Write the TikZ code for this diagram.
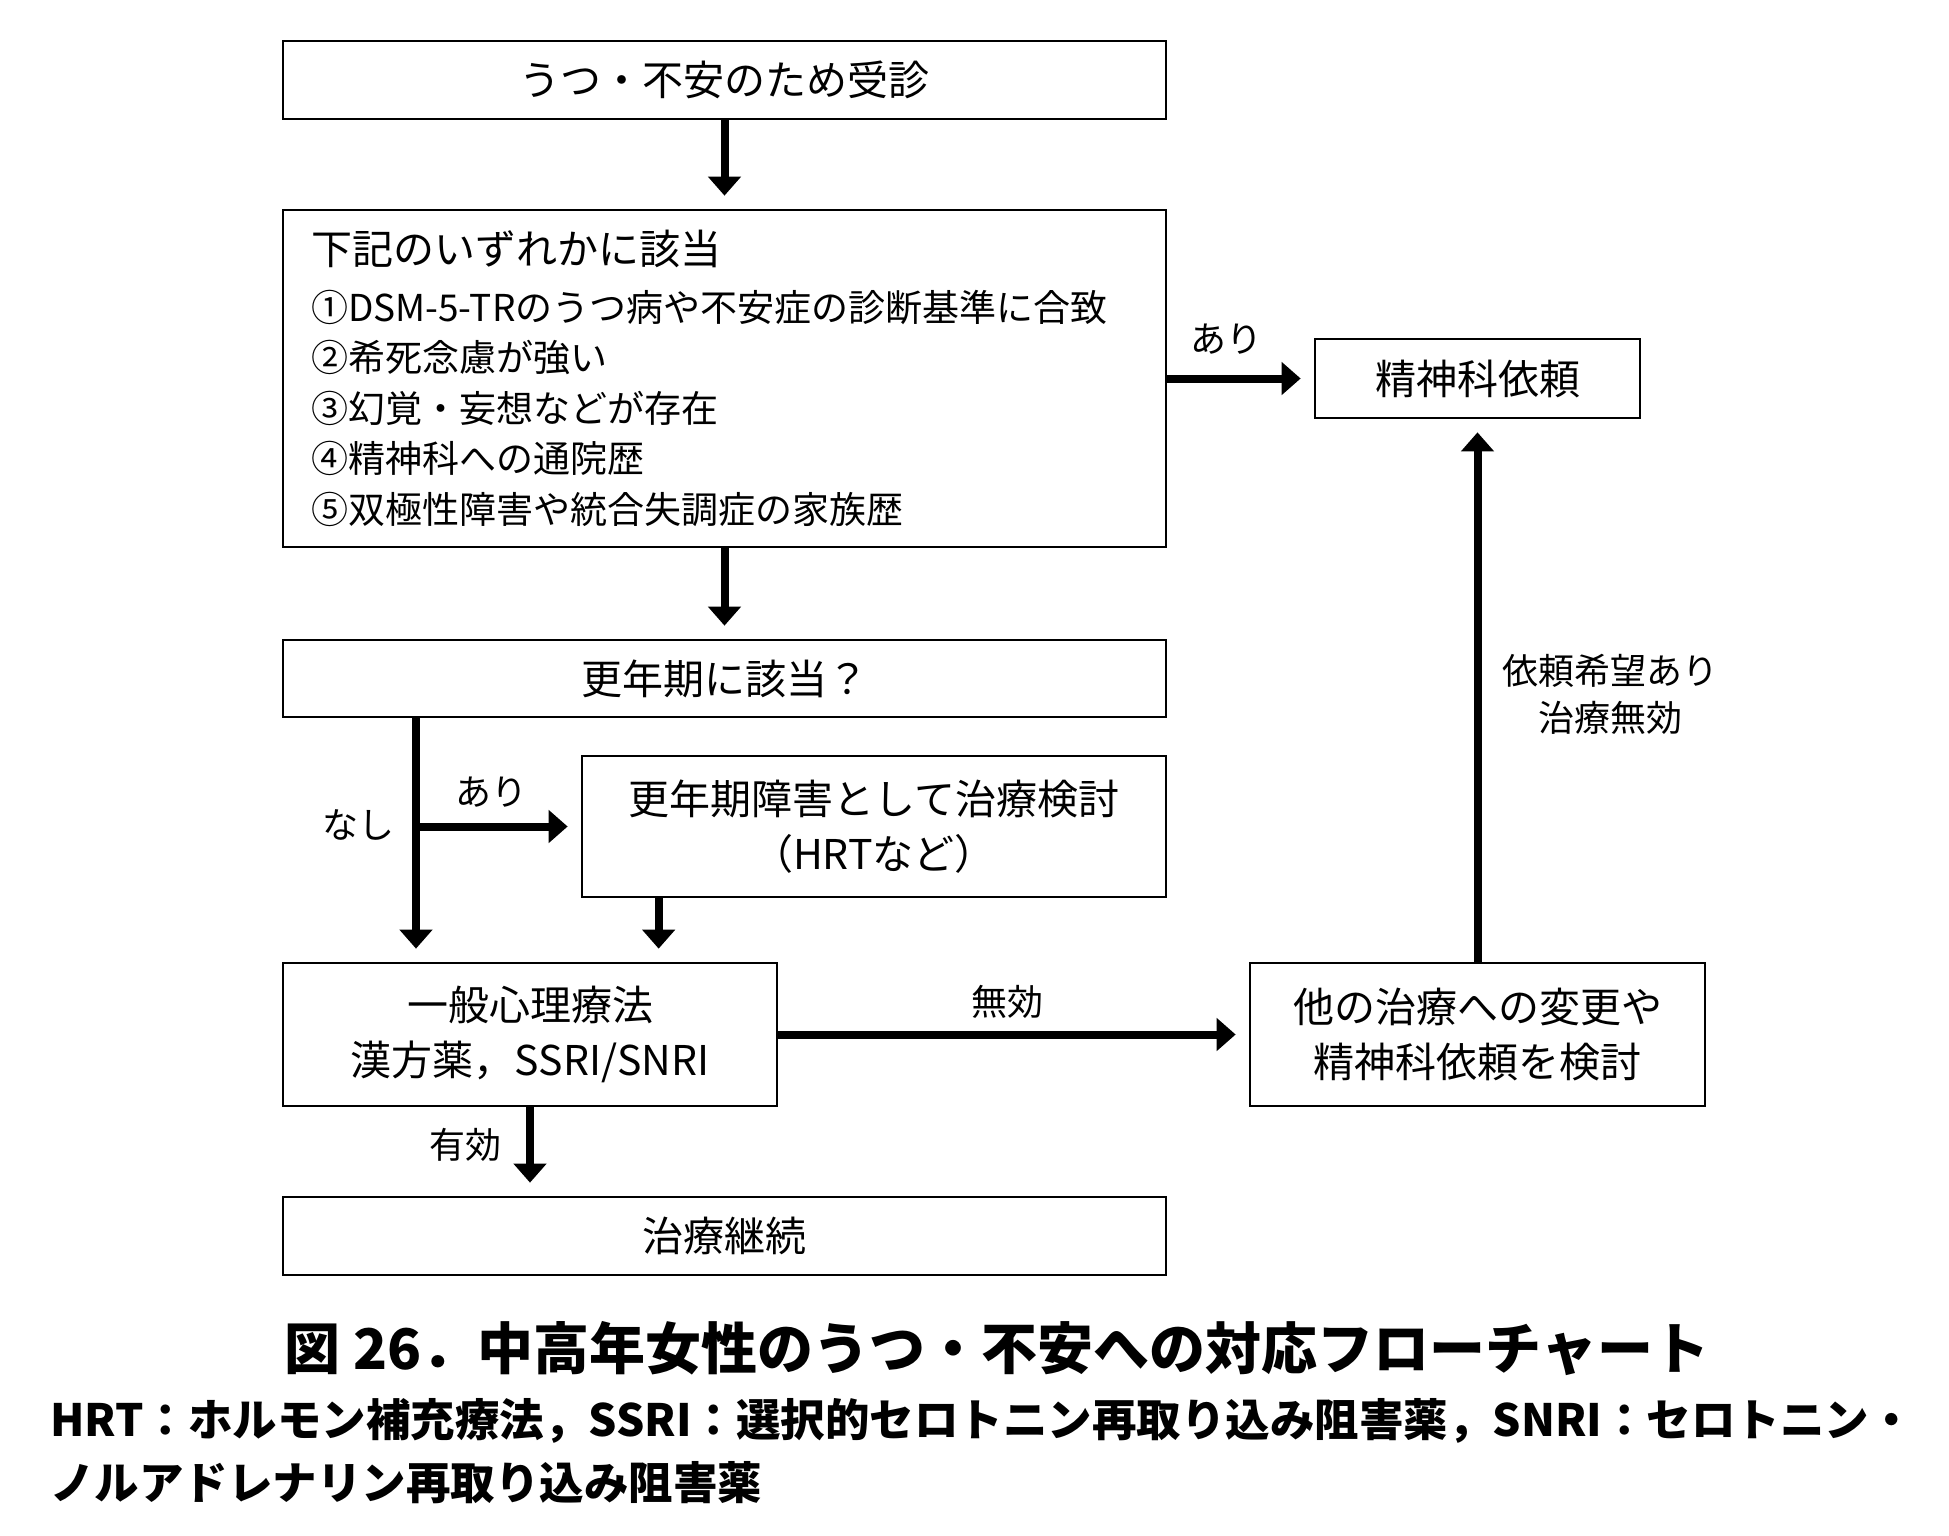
\documentclass[tikz,border=0pt]{standalone}
\usepackage{fontspec}
\setmainfont{Noto Sans CJK JP}
\usetikzlibrary{arrows.meta}

\begin{document}
\begin{tikzpicture}[x=1pt,y=-1pt,
    box/.style={draw, line width=2.7pt, inner sep=0pt, align=center, font=\fontsize{41}{55}\selectfont},
    lab/.style={inner sep=0pt, align=center, font=\fontsize{36}{47}\selectfont},
    arr/.style={line width=8pt, -{Triangle[length=19pt,width=32pt]}, shorten >=13pt}]
  \useasboundingbox (0,0) rectangle (1949,1535);
  % boxes
  \node[box, minimum width=883pt, minimum height=78pt] (b1) at (724.5,80) {うつ・不安のため受診};
  \node[box, minimum width=883pt, minimum height=337pt, text width=827pt, align=left,
        font=\fontsize{37}{50.5}\selectfont] (b2) at (724.5,378.5)
       {{\fontsize{41}{50.5}\selectfont 下記のいずれかに該当}\\[6pt]
        ①DSM-5-TRのうつ病や不安症の診断基準に合致\\
        ②希死念慮が強い\\
        ③幻覚・妄想などが存在\\
        ④精神科への通院歴\\
        ⑤双極性障害や統合失調症の家族歴};
  \node[box, minimum width=325pt, minimum height=79pt] (b7) at (1477.5,378.5) {精神科依頼};
  \node[box, minimum width=883pt, minimum height=77pt] (b3) at (724.5,678.5) {更年期に該当？};
  \node[box, minimum width=584pt, minimum height=141pt] (b4) at (874,826.5) {更年期障害として治療検討\\（HRTなど）};
  \node[box, minimum width=494pt, minimum height=143pt] (b5) at (530,1034.5) {一般心理療法\\漢方薬，SSRI/SNRI};
  \node[box, minimum width=455pt, minimum height=143pt] (b6) at (1477.5,1034.5) {他の治療への変更や\\精神科依頼を検討};
  \node[box, minimum width=883pt, minimum height=78pt] (b8) at (724.5,1236) {治療継続};
  % connectors
  \coordinate (fork) at (416,826.5);
  \draw[arr] (b1) -- (b2);
  \draw[arr] (b2) -- (b3);
  \draw[arr] (b2) -- (b7);
  \draw[arr] (b3.south -| fork) -- (b5.north -| fork);
  \draw[arr] (fork) -- (b4);
  \draw[arr] ([xshift=78pt]b4.south west) -- ([xshift=78pt]b4.south west |- b5.north);
  \draw[arr] (b5) -- (b8.north -| b5);
  \draw[arr] (b5) -- (b6);
  \draw[arr] (b6) -- (b7);
  % labels
  \node[lab] (lari1) at (1226,339) {あり};
  \node[lab] (lari2) at (491,792) {あり};
  \node[lab] (lnasi) at (358,825) {なし};
  \node[lab] (lyuko) at (465,1145) {有効};
  \node[lab] (lmuko) at (1007,1002) {無効};
  \node[lab] (lirai) at (1610,694) {依頼希望あり\\治療無効};
  % caption
  \node[inner sep=0pt, font=\fontsize{56}{60}\selectfont\bfseries] (cap) at (997,1349)
       {図 26．中高年女性のうつ・不安への対応フローチャート};
  \node[inner sep=0pt, anchor=west, align=left, font=\fontsize{44.5}{63}\selectfont\bfseries] (note) at (50,1451.5)
       {HRT：ホルモン補充療法，SSRI：選択的セロトニン再取り込み阻害薬，SNRI：セロトニン・\\
        ノルアドレナリン再取り込み阻害薬};
\end{tikzpicture}
\end{document}
